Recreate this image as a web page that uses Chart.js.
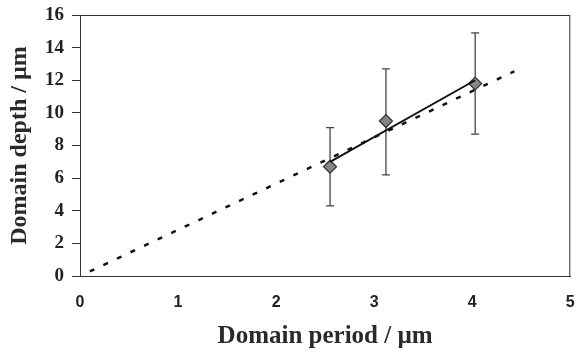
<!DOCTYPE html>
<html>
<head>
<meta charset="utf-8">
<script src="https://cdn.jsdelivr.net/npm/chart.js@4.4.0/dist/chart.umd.min.js"></script>
<style>
  html, body { margin: 0; padding: 0; background: #fff; }
  #wrap { width: 578px; height: 356px; }
</style>
</head>
<body>
<div id="wrap"><canvas id="chart" width="578" height="356"></canvas></div>
<script>
// measured domains
const periods = [2.55, 3.12, 4.03];
const depths = [6.7, 9.5, 11.8];
const errTop = [9.1, 12.7, 14.9];
const errBottom = [4.3, 6.2, 8.7];

// linear fit through measured points
const fitX = [2.55, 4.03];
const fitY = [7.0, 12.0];

// model prediction (dashed)
const modelX = [0.1, 4.43];
const modelY = [0.28, 12.55];

const xTicks = [0, 1, 2, 3, 4, 5];
const yTicks = [0, 2, 4, 6, 8, 10, 12, 14, 16];

const toPoints = (xs, ys) => xs.map((x, i) => ({ x: x, y: ys[i] }));

const errorBars = {
  id: 'errorBars',
  beforeDatasetsDraw(chart) {
    const ctx = chart.ctx;
    const xs = chart.scales.x, ys = chart.scales.y;
    ctx.save();
    ctx.strokeStyle = '#444';
    ctx.lineWidth = 1.3;
    periods.forEach((p, i) => {
      const px = xs.getPixelForValue(p);
      const top = ys.getPixelForValue(errTop[i]);
      const bot = ys.getPixelForValue(errBottom[i]);
      ctx.beginPath();
      ctx.moveTo(px, top); ctx.lineTo(px, bot);
      ctx.moveTo(px - 4, top); ctx.lineTo(px + 4, top);
      ctx.moveTo(px - 4, bot); ctx.lineTo(px + 4, bot);
      ctx.stroke();
    });
    ctx.restore();
  }
};

const frame = {
  id: 'frame',
  afterDraw(chart) {
    const a = chart.chartArea, ctx = chart.ctx;
    ctx.save();
    ctx.strokeStyle = '#333';
    ctx.lineWidth = 1;
    ctx.strokeRect(a.left + 0.5, a.top + 0.5, a.right - a.left - 1, a.bottom - a.top);
    ctx.restore();
  }
};

new Chart(document.getElementById('chart'), {
  type: 'scatter',
  data: {
    datasets: [
      {
        type: 'line',
        data: toPoints(modelX, modelY),
        borderColor: '#111',
        borderWidth: 2.5,
        borderDash: [5, 10],
        pointRadius: 0,
        fill: false
      },
      {
        type: 'line',
        data: toPoints(fitX, fitY),
        borderColor: '#111',
        borderWidth: 2,
        pointRadius: 0,
        fill: false
      },
      {
        data: toPoints(periods, depths),
        pointStyle: 'rectRot',
        pointRadius: 6.5,
        backgroundColor: '#858585',
        borderColor: '#333',
        borderWidth: 1.2
      }
    ]
  },
  options: {
    responsive: false,
    animation: false,
    layout: { padding: { left: 0, right: 5, top: 15, bottom: 0 } },
    plugins: { legend: { display: false }, tooltip: { enabled: false } },
    scales: {
      x: {
        type: 'linear',
        min: 0,
        max: 5,
        afterBuildTicks: s => { s.ticks = xTicks.map(v => ({ value: v })); },
        afterFit: s => { s.height = 80; s.paddingLeft = 0; s.paddingRight = 0; },
        grid: { display: true, drawOnChartArea: false, tickLength: 0, color: '#333' },
        border: { color: '#333', width: 1 },
        ticks: {
          color: '#222',
          padding: 17,
          font: { family: 'Liberation Sans', size: 16, weight: 'bold' }
        },
        title: {
          display: true,
          text: 'Domain period / µm',
          color: '#2a2a2a',
          padding: { top: 0, bottom: 4 },
          font: { family: 'Liberation Serif', size: 25, weight: 'bold' }
        }
      },
      y: {
        type: 'linear',
        min: 0,
        max: 16,
        afterBuildTicks: s => { s.ticks = yTicks.map(v => ({ value: v })); },
        afterFit: s => { s.width = 80; s.paddingTop = 0; s.paddingBottom = 0; },
        grid: { display: true, drawOnChartArea: false, tickLength: 8, color: '#333' },
        border: { color: '#333', width: 1 },
        ticks: {
          color: '#222',
          padding: 8,
          font: { family: 'Liberation Serif', size: 19, weight: 'bold' }
        },
        title: {
          display: true,
          text: 'Domain depth / µm',
          color: '#2a2a2a',
          padding: { top: 5, bottom: 0 },
          font: { family: 'Liberation Serif', size: 24, weight: 'bold' }
        }
      }
    }
  },
  plugins: [errorBars, frame]
});
</script>
</body>
</html>
